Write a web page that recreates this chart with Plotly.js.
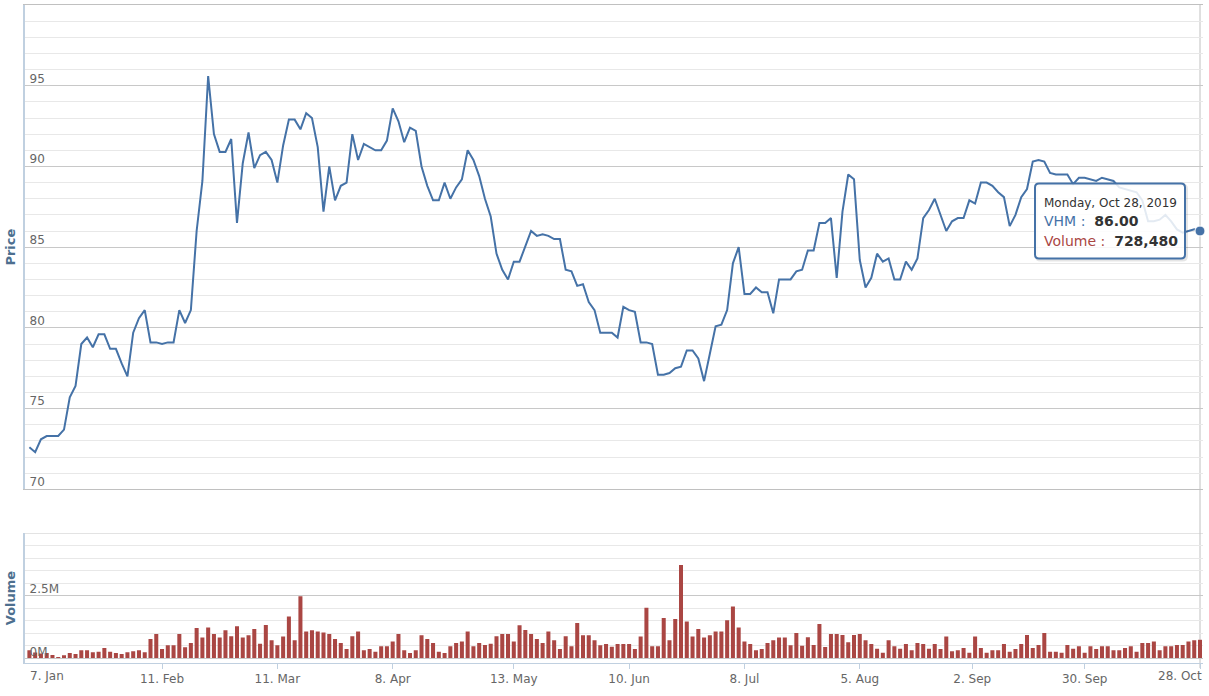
<!DOCTYPE html>
<html>
<head>
<meta charset="utf-8">
<script src="https://cdn.plot.ly/plotly-3.0.1.min.js"></script>
<style>
  html, body { margin: 0; padding: 0; background: #fff; }
  #chart { width: 1209px; height: 696px; }
</style>
</head>
<body>
<div id="chart"></div>
<script>
// ---------------- DATA ----------------
// Trading calendar (HOSE, 2019): weekdays minus exchange holidays
const HOLIDAYS = ['2019-01-01','2019-02-04','2019-02-05','2019-02-06','2019-02-07','2019-02-08',
  '2019-04-15','2019-04-29','2019-04-30','2019-05-01','2019-09-02'];
const START_DATE = '2019-01-02';
const END_DATE = '2019-10-28';

// VHM close price (thousand VND), one value per trading day
const price = [
  72.6, 72.3, 73.1, 73.3, 73.3, 73.3, 73.7, 75.7, 76.4, 79.0,
  79.4, 78.8, 79.6, 79.6, 78.7, 78.7, 77.8, 77.0, 79.7, 80.6,
  81.1, 79.1, 79.1, 79.0, 79.1, 79.1, 81.1, 80.3, 81.1, 86.0,
  89.1, 95.6, 92.0, 90.9, 90.9, 91.7, 86.5, 90.2, 92.1, 89.9,
  90.7, 90.9, 90.4, 89.0, 91.3, 92.9, 92.9, 92.3, 93.3, 93.0,
  91.2, 87.2, 90.0, 87.9, 88.8, 89.0, 92.0, 90.4, 91.4, 91.2,
  91.0, 91.0, 91.6, 93.6, 92.8, 91.5, 92.4, 92.2, 90.0, 88.8,
  87.9, 87.9, 89.0, 88.0, 88.7, 89.2, 91.0, 90.4, 89.4, 88.0,
  86.9, 84.6, 83.6, 83.0, 84.1, 84.1, 85.0, 86.0, 85.7, 85.8,
  85.7, 85.5, 85.5, 83.6, 83.5, 82.6, 82.7, 81.6, 81.1, 79.7,
  79.7, 79.7, 79.4, 81.3, 81.1, 81.0, 79.1, 79.1, 79.0, 77.1,
  77.1, 77.2, 77.5, 77.6, 78.6, 78.6, 78.1, 76.7, 78.4, 80.1,
  80.2, 81.1, 84.0, 85.0, 82.1, 82.1, 82.5, 82.2, 82.2, 80.9,
  83.0, 83.0, 83.0, 83.5, 83.6, 84.8, 84.8, 86.5, 86.5, 86.8,
  83.1, 87.2, 89.5, 89.2, 84.2, 82.5, 83.1, 84.6, 84.1, 84.3,
  83.0, 83.0, 84.1, 83.6, 84.3, 86.8, 87.3, 88.0, 87.0, 86.0,
  86.6, 86.8, 86.8, 87.9, 87.7, 89.0, 89.0, 88.8, 88.4, 88.1,
  86.3, 87.0, 88.1, 88.6, 90.3, 90.4, 90.3, 89.6, 89.5, 89.5,
  89.5, 88.9, 89.3, 89.3, 89.2, 89.1, 89.3, 89.2, 89.1, 88.7,
  88.6, 88.5, 88.4, 87.9, 86.6, 86.6, 86.7, 87.0, 86.6, 86.1,
  85.9, 86.0, 86.1, 86.0
];

// Daily volume (shares)
const volume = [
  310000, 220000, 180000, 200000, 120000, 40000, 110000, 200000, 160000, 310000,
  310000, 230000, 250000, 400000, 250000, 200000, 160000, 230000, 270000, 310000,
  230000, 760000, 960000, 360000, 510000, 510000, 960000, 430000, 600000, 1200000,
  820000, 1220000, 960000, 820000, 1110000, 870000, 1270000, 820000, 910000, 1160000,
  570000, 1320000, 710000, 510000, 860000, 1660000, 710000, 2470000, 1060000, 1110000,
  1060000, 1020000, 960000, 760000, 600000, 360000, 870000, 1060000, 310000, 360000,
  250000, 470000, 470000, 660000, 960000, 310000, 200000, 310000, 910000, 760000,
  600000, 250000, 200000, 470000, 600000, 660000, 1060000, 470000, 600000, 520000,
  570000, 870000, 960000, 960000, 660000, 1310000, 1120000, 960000, 760000, 600000,
  1060000, 710000, 360000, 870000, 470000, 1400000, 910000, 910000, 710000, 510000,
  560000, 450000, 560000, 560000, 560000, 360000, 860000, 2010000, 470000, 470000,
  1600000, 710000, 1560000, 3720000, 1460000, 860000, 1160000, 820000, 910000, 1060000,
  1060000, 1510000, 2060000, 1220000, 660000, 560000, 310000, 360000, 600000, 710000,
  820000, 820000, 510000, 1000000, 490000, 830000, 520000, 1360000, 440000, 960000,
  960000, 920000, 630000, 920000, 960000, 710000, 560000, 370000, 210000, 710000,
  470000, 370000, 560000, 310000, 600000, 560000, 370000, 560000, 360000, 860000,
  270000, 310000, 400000, 210000, 860000, 400000, 210000, 310000, 310000, 560000,
  250000, 360000, 560000, 920000, 400000, 520000, 1000000, 250000, 250000, 210000,
  520000, 370000, 470000, 210000, 470000, 360000, 470000, 470000, 310000, 310000,
  400000, 470000, 250000, 600000, 600000, 660000, 310000, 470000, 470000, 520000,
  520000, 660000, 710000, 728480
];

// X-axis tick dates and labels
const tickDates = ['2019-01-07','2019-02-11','2019-03-11','2019-04-08','2019-05-13','2019-06-10',
  '2019-07-08','2019-08-05','2019-09-02','2019-09-30','2019-10-28'];
const tickLabels = ['7. Jan','11. Feb','11. Mar','8. Apr','13. May','10. Jun',
  '8. Jul','5. Aug','2. Sep','30. Sep','28. Oct'];

const priceTicks = [70, 75, 80, 85, 90, 95];
const volTicks = [0, 2500000];
const volTickLabels = ['0M', '2.5M'];
const seriesName = 'VHM';

// ---------------- BUILD ----------------
const dates = [];
(function () {
  const d = new Date(START_DATE + 'T00:00:00Z');
  const end = new Date(END_DATE + 'T00:00:00Z').getTime();
  while (d.getTime() <= end) {
    const wd = d.getUTCDay();
    const s = d.toISOString().slice(0, 10);
    if (wd !== 0 && wd !== 6 && HOLIDAYS.indexOf(s) < 0) dates.push(s);
    d.setUTCDate(d.getUTCDate() + 1);
  }
})();
const xs = dates.map((_, i) => i);   // ordinal (trading-day) positions

function ordinalOf(dateStr) {
  const k = dates.indexOf(dateStr);
  if (k >= 0) return k;
  for (let j = 0; j < dates.length; j++) if (dates[j] > dateStr) return j - 0.5;
  return dates.length - 1;
}
const tickPos = tickDates.map(ordinalOf);
const nT = tickLabels.length;
// first and last labels are drawn as annotations (kept inside the chart like the original)
const tickText = tickLabels.map((t, k) => (k === 0 || k === nT - 1) ? '' : t);

const FONT = 'DejaVu Sans, Verdana, sans-serif';
const LINE_COLOR = '#4572A7';
const BAR_COLOR = '#AA4643';
const W = 1209, H = 696;
const M = { l: 25, r: 6, t: 5, b: 33 };
const PW = W - M.l - M.r, PH = H - M.t - M.b;
const px = v => (v - M.l) / PW;
const py = v => (H - M.b - v) / PH;

const priceDomain = [py(489.3), 1];
const volDomain = [0, py(533)];
const last = dates.length - 1;
const xRange = [-(29.4 - M.l) / 5.766, last + (W - M.r - 1200) / 5.766];
const tickFont = { family: FONT, size: 12, color: '#666666' };

const traces = [
  {
    type: 'scatter', mode: 'lines', name: seriesName,
    x: xs, y: price, xaxis: 'x', yaxis: 'y',
    line: { color: LINE_COLOR, width: 2 },
    hoverinfo: 'skip'
  },
  {
    type: 'bar', name: 'Volume',
    x: xs, y: volume, xaxis: 'x2', yaxis: 'y2',
    marker: { color: BAR_COLOR, line: { width: 0 } },
    hoverinfo: 'skip'
  },
  {
    type: 'scatter', mode: 'markers', showlegend: false,
    x: [xs[last]], y: [price[last]], xaxis: 'x', yaxis: 'y',
    marker: { color: LINE_COLOR, size: 10, line: { color: '#ffffff', width: 1 } },
    cliponaxis: false, hoverinfo: 'skip'
  }
];

// Tooltip geometry (pixels)
const TB = { x0: 1035, x1: 1185, y0: 183.5, y1: 258.5, r: 4 };
function roundRect(b, dx, dy) {
  const x0 = px(b.x0 + dx), x1 = px(b.x1 + dx), y0 = py(b.y0 + dy), y1 = py(b.y1 + dy);
  const rx = b.r / PW, ry = b.r / PH;
  return `M ${x0 + rx} ${y0} L ${x1 - rx} ${y0} Q ${x1} ${y0} ${x1} ${y0 - ry} ` +
         `L ${x1} ${y1 + ry} Q ${x1} ${y1} ${x1 - rx} ${y1} L ${x0 + rx} ${y1} ` +
         `Q ${x0} ${y1} ${x0} ${y1 + ry} L ${x0} ${y0 - ry} Q ${x0} ${y0} ${x0 + rx} ${y0} Z`;
}

const lastDate = new Date(dates[last] + 'T00:00:00Z');
const dayNames = ['Sunday','Monday','Tuesday','Wednesday','Thursday','Friday','Saturday'];
const monNames = ['Jan','Feb','Mar','Apr','May','Jun','Jul','Aug','Sep','Oct','Nov','Dec'];
const tipDate = `${dayNames[lastDate.getUTCDay()]}, ${monNames[lastDate.getUTCMonth()]} ${lastDate.getUTCDate()}, ${lastDate.getUTCFullYear()}`;
const tipPrice = price[last].toFixed(2);
const tipVol = volume[last].toLocaleString('en-US');

const layout = {
  width: W, height: H,
  margin: M,
  paper_bgcolor: '#ffffff', plot_bgcolor: '#ffffff',
  showlegend: false, hovermode: false,
  bargap: 0.3,
  font: { family: FONT, size: 12, color: '#666666' },
  xaxis: {
    domain: [0, 1], anchor: 'y', range: xRange, type: 'linear',
    showticklabels: false, ticks: '', showgrid: false, zeroline: false,
    showline: true, mirror: true, linecolor: '#C0C0C0', linewidth: 1,
    automargin: false
  },
  yaxis: {
    domain: priceDomain, anchor: 'x', range: [70, 100],
    tickvals: priceTicks, ticktext: priceTicks.map(String),
    ticklabelposition: 'inside top', ticks: '',
    ticklabelshift: 1, ticklabelstandoff: 3,
    tickfont: tickFont,
    showgrid: true, gridcolor: '#C8C8C8', gridwidth: 1,
    minor: { tick0: 70, dtick: 1, showgrid: true, gridcolor: '#E8E8E8', gridwidth: 1, ticks: '' },
    zeroline: false, showline: true, linecolor: '#C0D0E0', linewidth: 2,
    automargin: false,
    title: { text: 'Price', standoff: 11, font: { family: FONT, size: 13, color: '#4d6f8f', weight: 'bold' } }
  },
  xaxis2: {
    domain: [0, 1], anchor: 'y2', range: xRange, type: 'linear',
    tickvals: tickPos, ticktext: tickText,
    ticklabeloverflow: 'allow',
    ticks: 'outside', ticklen: 5, tickwidth: 1, tickcolor: '#C0D0E0',
    tickfont: tickFont,
    showgrid: false, zeroline: false,
    showline: true, linecolor: '#C0D0E0', linewidth: 1,
    automargin: false
  },
  yaxis2: {
    domain: volDomain, anchor: 'x2', range: [-200000, 5000000],
    tickvals: volTicks, ticktext: volTickLabels,
    ticklabelposition: 'inside top', ticks: '',
    ticklabelshift: 2, ticklabelstandoff: 3,
    tickfont: tickFont,
    showgrid: true, gridcolor: '#C8C8C8', gridwidth: 1,
    minor: { tick0: 0, dtick: 500000, showgrid: true, gridcolor: '#E8E8E8', gridwidth: 1, ticks: '' },
    zeroline: false, showline: true, linecolor: '#C0D0E0', linewidth: 2,
    automargin: false,
    title: { text: 'Volume', standoff: 11, font: { family: FONT, size: 13, color: '#4d6f8f', weight: 'bold' } }
  },
  shapes: [
    // top border of volume pane
    { type: 'line', xref: 'paper', yref: 'y2', x0: 0, x1: 1, y0: 5000000, y1: 5000000,
      line: { color: '#C8C8C8', width: 1 } },
    // crosshair at hovered point
    { type: 'line', xref: 'x', yref: 'paper', x0: last, x1: last, y0: py(668), y1: 1,
      line: { color: '#C0C0C0', width: 1 }, layer: 'below' },
    // tooltip shadow
    { type: 'path', xref: 'paper', yref: 'paper', path: roundRect(TB, 1.5, 1.5),
      line: { color: 'rgba(0,0,0,0.10)', width: 3 }, fillcolor: 'rgba(0,0,0,0)' },
    // tooltip box
    { type: 'path', xref: 'paper', yref: 'paper', path: roundRect(TB, 0, 0),
      line: { color: LINE_COLOR, width: 2 }, fillcolor: 'rgba(255,255,255,0.85)' }
  ],
  annotations: [
    // edge x-axis labels
    { xref: 'x2', yref: 'paper', x: tickPos[0], y: py(676.5), xanchor: 'center', yanchor: 'middle',
      showarrow: false, text: tickLabels[0], font: tickFont },
    { xref: 'x2', yref: 'paper', x: tickPos[nT - 1], y: py(676.5), xanchor: 'right', yanchor: 'middle',
      xshift: 4, showarrow: false, text: tickLabels[nT - 1], font: tickFont },
    // tooltip
    { xref: 'paper', yref: 'paper', x: px(1041.5), y: py(202.7), xanchor: 'left', yanchor: 'middle',
      showarrow: false, text: tipDate, font: { family: FONT, size: 12, color: '#333333' } },
    { xref: 'paper', yref: 'paper', x: px(1041.5), y: py(221.5), xanchor: 'left', yanchor: 'middle',
      showarrow: false,
      text: `<span style="color:${LINE_COLOR}">${seriesName}&nbsp;:&nbsp;&nbsp;</span><b>${tipPrice}</b>`,
      font: { family: FONT, size: 14, color: '#333333' } },
    { xref: 'paper', yref: 'paper', x: px(1041.5), y: py(241), xanchor: 'left', yanchor: 'middle',
      showarrow: false,
      text: `<span style="color:${BAR_COLOR}">Volume&nbsp;:&nbsp;&nbsp;</span><b>${tipVol}</b>`,
      font: { family: FONT, size: 14, color: '#333333' } }
  ]
};

Plotly.newPlot('chart', traces, layout, { displayModeBar: false, staticPlot: true });
</script>
</body>
</html>
